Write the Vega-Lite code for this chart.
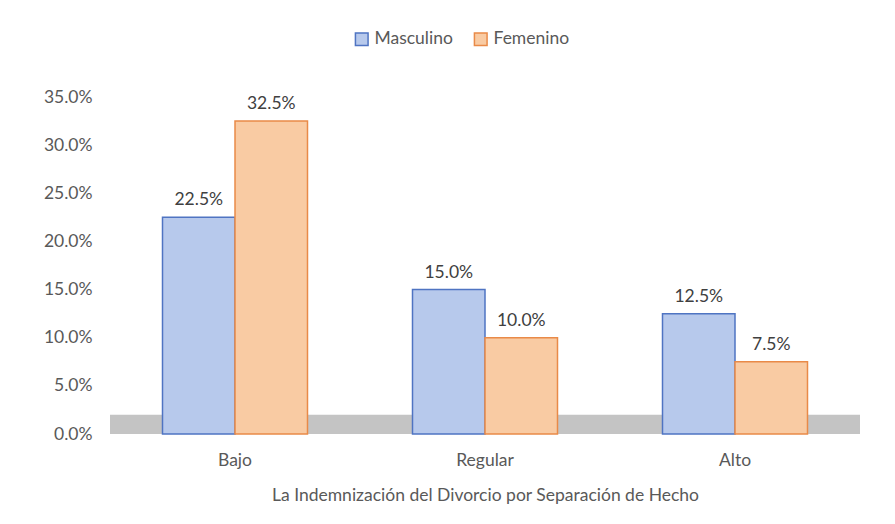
{
  "$schema": "https://vega.github.io/schema/vega-lite/v6.json",
  "width": 750,
  "height": 337,
  "autosize": "none",
  "padding": {"left": 110, "top": 97, "right": 35, "bottom": 90},
  "background": "white",
  "config": {
    "view": {"stroke": null},
    "font": "Lato",
    "axis": {"labelFont": "Lato", "titleFont": "Lato", "labelColor": "#595959", "titleColor": "#595959"},
    "legend": {"labelFont": "Lato", "labelColor": "#595959"}
  },
  "data": {
    "values": [
      {"nivel": "Bajo", "sexo": "Masculino", "valor": 0.225},
      {"nivel": "Bajo", "sexo": "Femenino", "valor": 0.325},
      {"nivel": "Regular", "sexo": "Masculino", "valor": 0.15},
      {"nivel": "Regular", "sexo": "Femenino", "valor": 0.10},
      {"nivel": "Alto", "sexo": "Masculino", "valor": 0.125},
      {"nivel": "Alto", "sexo": "Femenino", "valor": 0.075}
    ]
  },
  "layer": [
    {
      "data": {"values": [{"floor": 1}]},
      "mark": {"type": "rect", "color": "#c4c4c4"},
      "encoding": {
        "y": {"datum": 0, "type": "quantitative", "scale": {"domain": [0, 0.35], "nice": false},
          "axis": {
            "title": null, "format": ".1%", "values": [0, 0.05, 0.1, 0.15, 0.2, 0.25, 0.3, 0.35],
            "labelFontSize": 17.5, "labelPadding": 18, "domain": false, "ticks": false, "grid": false
          }},
        "y2": {"datum": 0.02}
      }
    },
    {
      "mark": {"type": "bar", "strokeWidth": 1.5},
      "encoding": {
        "x": {
          "field": "nivel", "type": "nominal", "sort": ["Bajo", "Regular", "Alto"],
          "scale": {"paddingInner": 0.42, "paddingOuter": 0.21},
          "axis": {
            "title": "La Indemnización del Divorcio por Separación de Hecho",
            "titleFontSize": 17.5, "titleFontWeight": "normal", "titlePadding": 18,
            "labelFontSize": 17.5, "labelPadding": 17, "labelAngle": 0,
            "domain": false, "ticks": false
          }
        },
        "y": {"field": "valor", "type": "quantitative"},
        "xOffset": {"field": "sexo", "type": "nominal", "sort": ["Masculino", "Femenino"]},
        "fill": {
          "field": "sexo", "type": "nominal", "sort": ["Masculino", "Femenino"],
          "scale": {"domain": ["Masculino", "Femenino"], "range": ["#b7c9ec", "#f9cba3"]},
          "legend": {
            "title": null, "orient": "none", "legendX": 243, "legendY": -67,
            "direction": "horizontal", "symbolType": "square", "symbolSize": 160,
            "labelFontSize": 17.5, "columnPadding": 18, "symbolStrokeWidth": 1.5
          }
        },
        "stroke": {
          "field": "sexo", "type": "nominal", "sort": ["Masculino", "Femenino"],
          "scale": {"domain": ["Masculino", "Femenino"], "range": ["#4f74c2", "#e98a48"]},
          "legend": null
        }
      }
    },
    {
      "mark": {"type": "text", "fontSize": 17.5, "baseline": "bottom", "dy": -8, "color": "#404040"},
      "encoding": {
        "x": {"field": "nivel", "type": "nominal", "sort": ["Bajo", "Regular", "Alto"]},
        "y": {"field": "valor", "type": "quantitative"},
        "xOffset": {"field": "sexo", "type": "nominal", "sort": ["Masculino", "Femenino"]},
        "text": {"field": "valor", "type": "quantitative", "format": ".1%"}
      }
    }
  ]
}
